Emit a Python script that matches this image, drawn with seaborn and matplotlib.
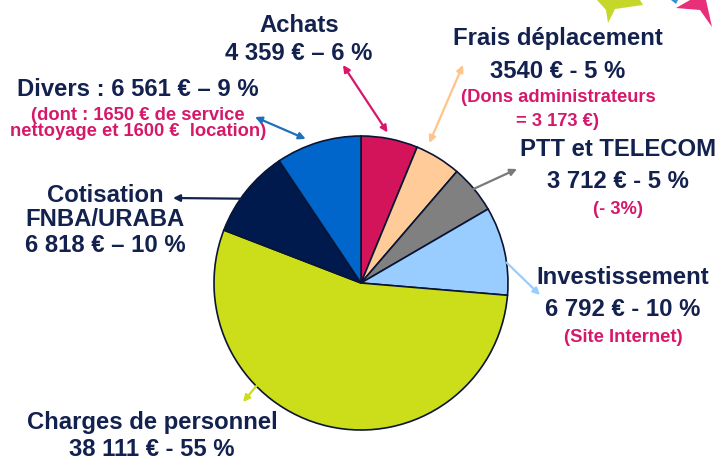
import numpy as np
import matplotlib.pyplot as plt
import seaborn as sns
from matplotlib.patches import Polygon

# Data
labels = ["Achats", "Frais déplacement", "PTT et TELECOM", "Investissement",
          "Charges de personnel", "Cotisation FNBA/URABA", "Divers"]
amounts = [4359, 3540, 3712, 6792, 38111, 6818, 6561]
colors = ["#D4145A", "#FFCC99", "#808080", "#99CCFF", "#CCDD1A", "#001A4D", "#0066CC"]

# text blocks: (main lines, note lines)
main_lines = [
    ["Achats", "4 359 € – 6 %"],
    ["Frais déplacement", "3540 € - 5 %"],
    ["PTT et TELECOM", "3 712 € - 5 %"],
    ["Investissement", "6 792 € - 10 %"],
    ["Charges de personnel", "38 111 € - 55 %"],
    ["Cotisation", "FNBA/URABA", "6 818 € – 10 %"],
    ["Divers : 6 561 € – 9 %"],
]
note_lines = [
    [],
    ["(Dons administrateurs", "= 3 173 €)"],
    ["(- 3%)"],
    ["(Site Internet)"],
    [],
    [],
    ["(dont : 1650 € de service", "nettoyage et 1600 €  location)"],
]

# Setup
sns.set_theme(style="white")
plt.rcParams["font.family"] = ["Liberation Sans", "DejaVu Sans"]

W, H = 722, 463
NAVY = "#13214F"
RED = "#D6186A"

fig = plt.figure(figsize=(W / 100, H / 100), dpi=100)
ax = fig.add_axes([0, 0, 1, 1])

cx, cy, R = 361, H - 283, 147
wedges, _ = ax.pie(amounts, colors=colors, startangle=90, counterclock=False,
                   center=(cx, cy), radius=R,
                   wedgeprops=dict(edgecolor="#0A1535", linewidth=1.2))

ax.set_xlim(0, W)
ax.set_ylim(0, H)
ax.set_aspect("equal")
ax.axis("off")

# layout: text centre x, first line y (pixels from top), line step
main_pos = [(299, 25), (558, 38), (618, 150), (623, 277), (152, 422), (105, 195), (138, 90)]
main_step = [28, 34, 32, 33, 28, 25, 0]
note_step = [0, 24, 0, 0, 0, 0, 17]
note_gap = [0, 26, 28, 27, 0, 0, 25]

for i in range(len(labels)):
    x, y = main_pos[i]
    for line in main_lines[i]:
        ax.text(x, H - y, line, ha="center", va="center", fontsize=17.2,
                fontweight="bold", color=NAVY)
        y += main_step[i]
    y = y - main_step[i] + note_gap[i]
    for line in note_lines[i]:
        ax.text(x, H - y, line, ha="center", va="center", fontsize=13.2,
                fontweight="bold", color=RED)
        y += note_step[i]

# arrows: angle on the pie (deg), radius factor, text-side end (pixels), style, colour
arrows = [
    (80, 1.04, (343, 65), "<|-|>", RED),
    (64, 1.06, (463, 65), "<|-|>", "#FFC48A"),
    (40, 0.99, (517, 169), "-|>", "#7A7A7A"),
    (8, 1.0, (540, 295), "-|>", "#99CCFF"),
    (-135.5, 0.99, (243, 402), "-|>", "#CCDD1A"),
    (145, 1.0, (173, 198), "-|>", NAVY),
    (111, 1.05, (255, 117), "<|-|>", "#1F6FBF"),
]
for ang, rf, (tx, ty), style, col in arrows:
    a = np.deg2rad(ang)
    px, py = cx + rf * R * np.cos(a), cy + rf * R * np.sin(a)
    ax.annotate("", xy=(tx, H - ty), xytext=(px, py),
                arrowprops=dict(arrowstyle=style, color=col, lw=1.6,
                                mutation_scale=10, shrinkA=0, shrinkB=0))

# decorative shapes top right
ax.add_patch(Polygon([(597, H), (606, H - 10), (608, H - 23), (615, H - 9),
                      (643, H - 5), (640, H)], closed=True, color="#C5D82A", lw=0))
ax.add_patch(Polygon([(676, H - 8), (690, H), (706, H), (712, H - 27),
                      (700, H - 10)], closed=True, color="#E8307A", lw=0))
ax.add_patch(Polygon([(671, H), (678, H), (676, H - 4)], closed=True,
                     color="#3A8FD8", lw=0))

fig.savefig("out.png", dpi=100)
